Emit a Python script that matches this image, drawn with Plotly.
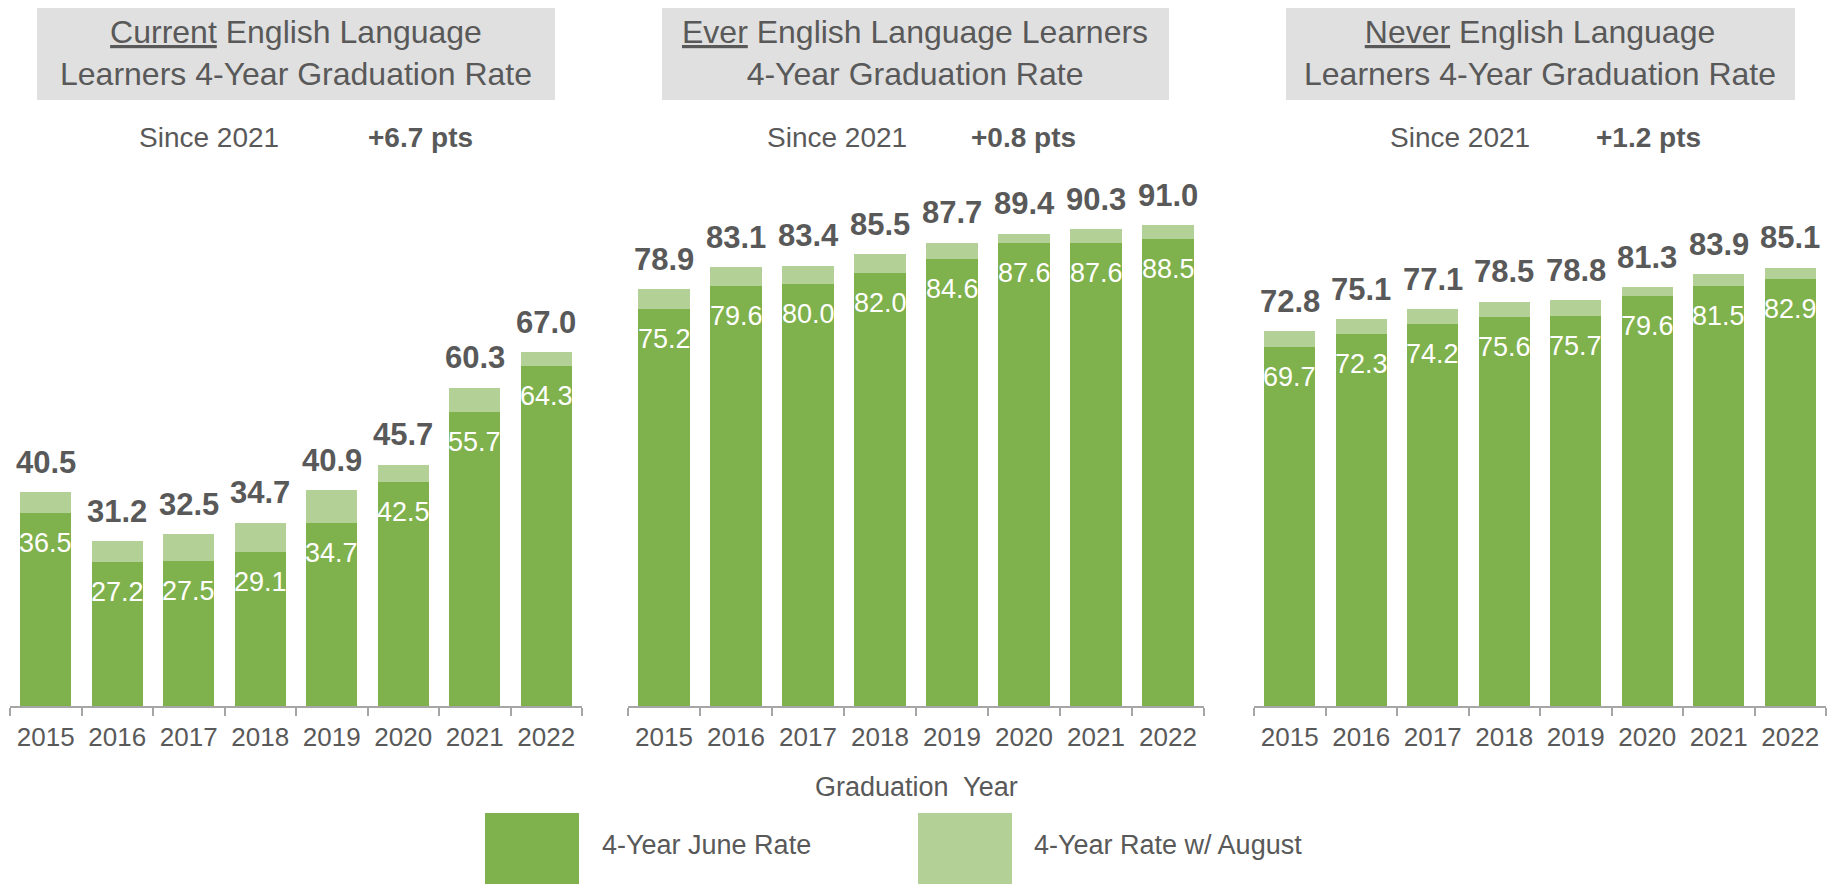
import plotly.graph_objects as go

years = ["2015", "2016", "2017", "2018", "2019", "2020", "2021", "2022"]

current_june = [36.5, 27.2, 27.5, 29.1, 34.7, 42.5, 55.7, 64.3]
current_aug = [40.5, 31.2, 32.5, 34.7, 40.9, 45.7, 60.3, 67.0]

ever_june = [75.2, 79.6, 80.0, 82.0, 84.6, 87.6, 87.6, 88.5]
ever_aug = [78.9, 83.1, 83.4, 85.5, 87.7, 89.4, 90.3, 91.0]

never_june = [69.7, 72.3, 74.2, 75.6, 75.7, 79.6, 81.5, 82.9]
never_aug = [72.8, 75.1, 77.1, 78.5, 78.8, 81.3, 83.9, 85.1]

titles = [
    "<u>Current</u> English Language<br>Learners 4-Year Graduation Rate",
    "<u>Ever</u> English Language Learners<br>4-Year Graduation Rate",
    "<u>Never</u> English Language<br>Learners 4-Year Graduation Rate",
]
since_label = "Since 2021"
changes = ["+6.7 pts", "+0.8 pts", "+1.2 pts"]
legend_labels = ["4-Year June Rate", "4-Year Rate w/ August"]
x_title = "Graduation  Year"

# page body has an 8px default margin; compensate so the figure lands at the reference spots
OFF = 8
W, H = 1835, 884
FW, FH = W - OFF, H - OFF
DARK = "#7FB14D"
LIGHT = "#B3D197"
TXT = "#595959"
GRID = "#A6A6A6"
FONT = "Liberation Sans, Arial, sans-serif"


def px_x(v):
    return (v - OFF) / FW


def px_y(v):
    return 1 - (v - OFF) / FH


panels = [(current_june, current_aug), (ever_june, ever_aug), (never_june, never_aug)]
x_domains = [(10, 582), (628, 1204), (1254, 1826)]
y_max = [101.5, 101.5, 104.1]
title_centers = [296, 915, 1540]
box_spans = [(37, 555), (662, 1169), (1286, 1795)]
since_centers = [209, 837, 1460]
change_centers = [420, 1023, 1648]

fig = go.Figure()
annotations = []
shapes = []

for k, (june, aug) in enumerate(panels):
    idx = "" if k == 0 else str(k + 1)
    extra = [round(a - j, 1) for a, j in zip(aug, june)]
    fig.add_trace(go.Bar(x=years, y=june, marker=dict(color=DARK, line=dict(width=0)),
                         xaxis="x" + idx, yaxis="y" + idx, showlegend=False,
                         hoverinfo="skip", name=legend_labels[0]))
    fig.add_trace(go.Bar(x=years, y=extra, marker=dict(color=LIGHT, line=dict(width=0)),
                         xaxis="x" + idx, yaxis="y" + idx, showlegend=False,
                         hoverinfo="skip", name=legend_labels[1]))
    for i, (j, a) in enumerate(zip(june, aug)):
        annotations.append(dict(x=i, y=a, xref="x" + idx, yref="y" + idx, text=f"<b>{a:.1f}</b>",
                                showarrow=False, yanchor="middle", yshift=30,
                                font=dict(family=FONT, size=31, color=TXT)))
        annotations.append(dict(x=i, y=j, xref="x" + idx, yref="y" + idx, text=f"{j:.1f}",
                                showarrow=False, yanchor="middle", yshift=-30,
                                font=dict(family=FONT, size=27, color="white")))
    d0, d1 = x_domains[k]
    fig.update_layout(**{
        "xaxis" + idx: dict(
            domain=[px_x(d0), px_x(d1)], type="category", anchor="y" + idx,
            categoryorder="array", categoryarray=years, range=[-0.5, len(years) - 0.5],
            showline=True, linecolor=GRID, linewidth=2, ticks="outside", tickson="boundaries",
            ticklen=8, tickwidth=2, tickcolor=GRID, showgrid=False, zeroline=False,
            tickangle=0, tickfont=dict(family=FONT, size=26, color=TXT),
            ticklabelstandoff=7, fixedrange=True),
        "yaxis" + idx: dict(
            domain=[px_y(706), px_y(170)], range=[0, y_max[k]], anchor="x" + idx,
            visible=False, fixedrange=True),
    })
    # title box
    b0, b1 = box_spans[k]
    shapes.append(dict(type="rect", xref="paper", yref="paper", x0=px_x(b0), x1=px_x(b1),
                       y0=px_y(100), y1=1.0, fillcolor="#E0E0E0", line=dict(width=0), layer="below"))
    annotations.append(dict(x=px_x(title_centers[k]), y=px_y(53), xref="paper", yref="paper",
                            text=titles[k], showarrow=False, xanchor="center", yanchor="middle",
                            font=dict(family=FONT, size=32, color=TXT)))
    annotations.append(dict(x=px_x(since_centers[k]), y=px_y(138), xref="paper", yref="paper",
                            text=since_label, showarrow=False, xanchor="center", yanchor="middle",
                            font=dict(family=FONT, size=28, color=TXT)))
    annotations.append(dict(x=px_x(change_centers[k]), y=px_y(138), xref="paper", yref="paper",
                            text=f"<b>{changes[k]}</b>", showarrow=False, xanchor="center", yanchor="middle",
                            font=dict(family=FONT, size=28, color=TXT)))

# axis title
annotations.append(dict(x=px_x(916), y=px_y(787), xref="paper", yref="paper", text=x_title,
                        showarrow=False, xanchor="center", yanchor="middle",
                        font=dict(family=FONT, size=27, color=TXT)))
# legend
for (lx0, lx1, tx), col, lab in zip([(485, 579, 600), (918, 1012, 1032)], [DARK, LIGHT], legend_labels):
    shapes.append(dict(type="rect", xref="paper", yref="paper", x0=px_x(lx0), x1=px_x(lx1),
                       y0=0, y1=px_y(813), fillcolor=col, line=dict(width=0)))
    annotations.append(dict(x=px_x(tx), y=px_y(845), xref="paper", yref="paper", text=lab,
                            showarrow=False, xanchor="left", yanchor="middle",
                            font=dict(family=FONT, size=27, color=TXT)))

fig.update_layout(
    width=FW, height=FH, margin=dict(l=0, r=0, t=0, b=0),
    paper_bgcolor="white", plot_bgcolor="white",
    barmode="stack", bargap=0.28,
    annotations=annotations, shapes=shapes,
    font=dict(family=FONT, color=TXT),
)

fig.write_html("out.html")
